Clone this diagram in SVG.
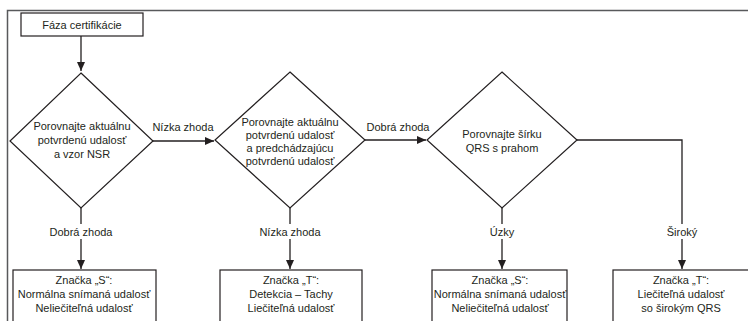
<svg xmlns="http://www.w3.org/2000/svg" width="748" height="321" viewBox="0 0 748 321">
<style>
.t{font-family:"Liberation Sans",Arial,sans-serif;font-size:11px;fill:#231f20;text-anchor:middle}
.s{fill:#fff;stroke:#231f20;stroke-width:1.2}
.c{fill:none;stroke:#231f20;stroke-width:1.3}
</style>
<defs>
<marker id="ah" markerWidth="10" markerHeight="8" refX="9" refY="4" orient="auto" markerUnits="userSpaceOnUse">
<path d="M0,0 L9,4 L0,8 Z" fill="#231f20"/>
</marker>
</defs>
<rect width="748" height="321" fill="#fff"/>
<path d="M7.5,330 V10.5 H760" fill="none" stroke="#58595b" stroke-width="1.5"/>
<g id="connectors">
<path class="c" d="M81,36 V71" marker-end="url(#ah)"/>
<path class="c" d="M153,141 H214" marker-end="url(#ah)"/>
<path class="c" d="M365,140 H426" marker-end="url(#ah)"/>
<path class="c" d="M81,208 V269" marker-end="url(#ah)"/>
<path class="c" d="M290,208 V269" marker-end="url(#ah)"/>
<path class="c" d="M502,208 V269" marker-end="url(#ah)"/>
<path class="c" d="M577,140 H682 V269" marker-end="url(#ah)"/>
<rect x="40" y="224" width="82" height="15" fill="#fff"/>
<text class="t" x="81" y="236">Dobrá zhoda</text>
<rect x="255" y="224" width="70" height="15" fill="#fff"/>
<text class="t" x="290" y="236">Nízka zhoda</text>
<rect x="485" y="224" width="34" height="15" fill="#fff"/>
<text class="t" x="502" y="236">Úzky</text>
<rect x="663" y="224" width="38" height="15" fill="#fff"/>
<text class="t" x="682" y="236">Široký</text>
<text class="t" x="183" y="131">Nízka zhoda</text>
<text class="t" x="398" y="131">Dobrá zhoda</text>
</g>
<g id="start">
<rect class="s" x="21" y="13" width="122" height="23"/>
<text class="t" x="82" y="29">Fáza certifikácie</text>
</g>
<g id="d1">
<polygon class="s" points="81,73 153,141 81,208 10,141"/>
<text class="t" x="82" y="130">Porovnajte aktuálnu</text>
<text class="t" x="82" y="144">potvrdenú udalosť</text>
<text class="t" x="82" y="158">a vzor NSR</text>
</g>
<g id="d2">
<polygon class="s" points="290,72 365,140 290,208 215,140"/>
<text class="t" x="290" y="126">Porovnajte aktuálnu</text>
<text class="t" x="290" y="139">potvrdenú udalosť</text>
<text class="t" x="290" y="152">a predchádzajúcu</text>
<text class="t" x="290" y="165">potvrdenú udalosť</text>
</g>
<g id="d3">
<polygon class="s" points="502,72 577,140 502,208 427,140"/>
<text class="t" x="502" y="138">Porovnajte šírku</text>
<text class="t" x="502" y="152">QRS s prahom</text>
</g>
<g id="b1">
<rect class="s" x="13" y="270" width="143" height="60"/>
<text class="t" x="84" y="284">Značka „S“:</text>
<text class="t" x="84" y="298">Normálna snímaná udalosť</text>
<text class="t" x="84" y="312">Neliečiteľná udalosť</text>
</g>
<g id="b2">
<rect class="s" x="220" y="270" width="142" height="60"/>
<text class="t" x="291" y="284">Značka „T“:</text>
<text class="t" x="291" y="298">Detekcia – Tachy</text>
<text class="t" x="291" y="312">Liečiteľná udalosť</text>
</g>
<g id="b3">
<rect class="s" x="432" y="270" width="135" height="60"/>
<text class="t" x="500" y="284">Značka „S“:</text>
<text class="t" x="500" y="298">Normálna snímaná udalosť</text>
<text class="t" x="500" y="312">Neliečiteľná udalosť</text>
</g>
<g id="b4">
<rect class="s" x="613" y="270" width="140" height="60"/>
<text class="t" x="681" y="284">Značka „T“:</text>
<text class="t" x="681" y="298">Liečiteľná udalosť</text>
<text class="t" x="681" y="312">so širokým QRS</text>
</g>
</svg>
